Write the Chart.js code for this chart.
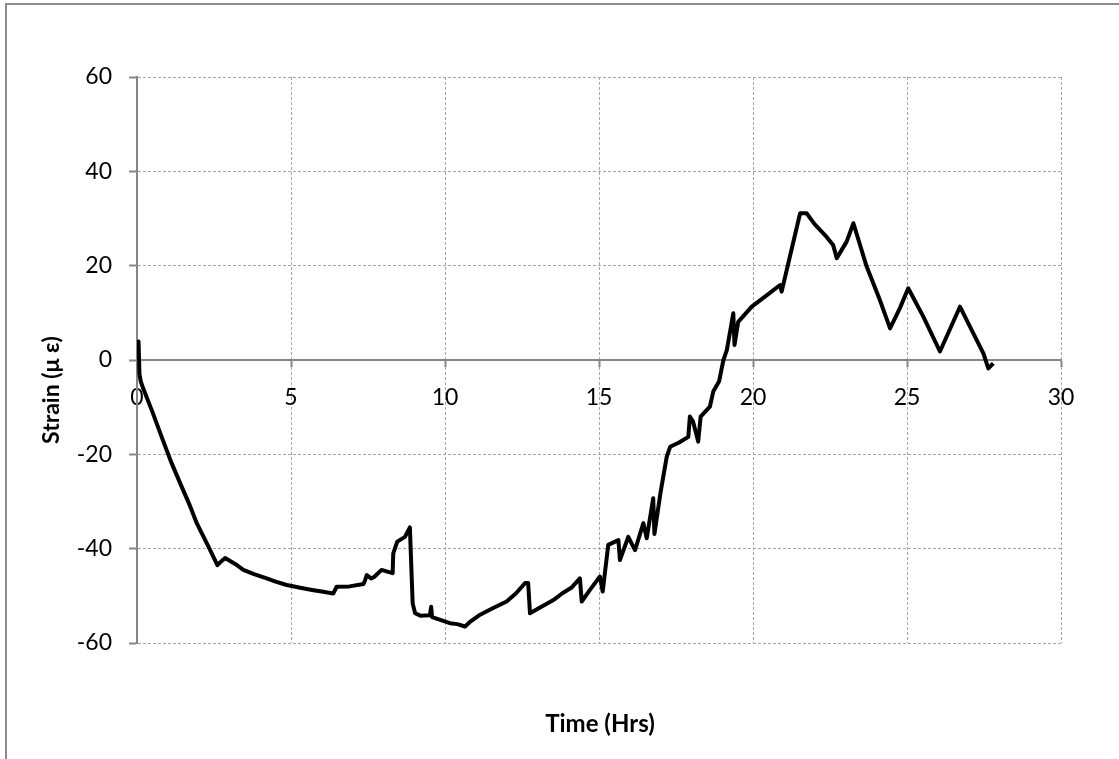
<!DOCTYPE html>
<html lang="en">
<head>
    <meta charset="UTF-8">
    <title>Strain vs Time</title>
    <script src="https://cdn.jsdelivr.net/npm/chart.js"></script>
    <style>
        body { margin: 0; overflow: hidden; background: #fff; font-family: Lato, "Open Sans", sans-serif; }
        .frame { position: absolute; left: 0; top: 0; width: 1119px; height: 759px; }
        .outline { position: absolute; left: 5px; top: 3px; width: 1200px; height: 800px; border-left: 2px solid #8c8c8c; border-top: 2px solid #8c8c8c; }
        .axis-title { position: absolute; font-weight: bold; color: #000; white-space: nowrap; }
        #x-title { left: 600px; top: 722px; font-size: 24px; transform: translate(-50%, -50%); }
        #y-title { left: 50px; top: 390px; font-size: 23px; transform: translate(-50%, -50%) rotate(-90deg); }
    </style>
</head>
<body>

    <div class="frame">
        <div class="outline"></div>
        <canvas id="strainChart" width="1119" height="759"></canvas>
        <div id="x-title" class="axis-title">Time (Hrs)</div>
        <div id="y-title" class="axis-title">Strain (μ ε)</div>
    </div>

    <script>
        // values
        const timeHrs = [
            0, 0.05, 0.08, 0.12, 0.2, 0.5, 0.8, 1.1, 1.4, 1.7, 1.94, 2.3, 2.61, 2.75, 2.86,
            3.2, 3.45, 3.8, 4.21, 4.5, 4.86, 5.3, 5.73, 6.0, 6.37, 6.45, 6.48, 6.9, 7.35, 7.4,
            7.46, 7.6, 7.7, 7.94, 8.1, 8.3, 8.32, 8.45, 8.7, 8.86, 8.95, 9.03, 9.2, 9.51, 9.55,
            9.58, 9.8, 10.16, 10.4, 10.65, 10.8, 11.14, 11.5, 12.0, 12.3, 12.6, 12.7, 12.76, 13.0,
            13.52, 13.8, 14.1, 14.38, 14.44, 14.7, 15.03, 15.12, 15.3, 15.63, 15.68, 15.95, 16.17,
            16.44, 16.55, 16.76, 16.8, 17.0, 17.2, 17.31, 17.6, 17.9, 17.95, 18.05, 18.22, 18.3,
            18.6, 18.71, 18.9, 19.04, 19.15, 19.36, 19.4, 19.52, 19.96, 20.4, 20.88, 20.93, 21.2,
            21.53, 21.74, 22.0, 22.39, 22.6, 22.72, 23.04, 23.26, 23.69, 24.12, 24.45, 24.77,
            25.04, 25.53, 26.07, 26.72, 27.15, 27.48, 27.64, 27.8
        ];
        const strain = [
            0.5, 3.9, -3, -4.5, -6, -11, -16.3, -21.5, -26.1, -30.6, -34.6, -39.3, -43.5, -42.6, -42,
            -43.3, -44.5, -45.4, -46.3, -47, -47.7, -48.3, -48.8, -49.1, -49.5, -48.5, -48.1, -48, -47.5, -46.8,
            -45.6, -46.3, -46, -44.5, -44.8, -45.2, -41, -38.5, -37.5, -35.5, -51.6, -53.7, -54.2, -54.1, -52.3,
            -54.5, -55, -55.8, -56, -56.5, -55.6, -54, -52.8, -51.2, -49.5, -47.3, -47.3, -53.7, -52.8,
            -50.9, -49.5, -48.3, -46.3, -51.2, -48.8, -45.9, -49.1, -39.2, -38.2, -42.4, -37.5, -40.3,
            -34.6, -37.8, -29.3, -36.9, -28, -20.5, -18.4, -17.5, -16.3, -12, -13, -17.3, -12,
            -9.9, -6.7, -4.5, 0, 2.1, 9.9, 3.2, 8.1, 11.3, 13.5, 15.9, 14.5, 22,
            31.1, 31.1, 28.8, 26.1, 24.4, 21.6, 25.1, 29, 19.8, 12.7, 6.7, 11,
            15.2, 9.2, 1.8, 11.3, 5.7, 1.4, -1.8, -0.7
        ];
        const xTicks = [0, 5, 10, 15, 20, 25, 30];
        const yTicks = [-60, -40, -20, 0, 20, 40, 60];

        const gridColor = "#a6a6a6";
        const axisColor = "#868686";
        const tickFont = { family: "Lato", size: 23 };

        const points = timeHrs.map((t, i) => ({ x: t, y: strain[i] }));

        new Chart(document.getElementById("strainChart"), {
            type: "scatter",
            data: {
                datasets: [{
                    data: points,
                    showLine: true,
                    borderColor: "#000",
                    borderWidth: 4,
                    borderJoinStyle: "round",
                    pointRadius: 0,
                    tension: 0
                }]
            },
            options: {
                responsive: false,
                animation: false,
                layout: { padding: { top: 77, right: 58, bottom: 116, left: 0 } },
                plugins: { legend: { display: false }, tooltip: { enabled: false } },
                scales: {
                    x: {
                        type: "linear",
                        position: { y: 0 },
                        min: 0,
                        max: 30,
                        afterBuildTicks: (scale) => { scale.ticks = xTicks.map(v => ({ value: v })); },
                        ticks: { font: tickFont, color: "#000", padding: 18, maxRotation: 0, autoSkip: false },
                        grid: { color: gridColor, lineWidth: 1, tickLength: 6, tickColor: axisColor, tickWidth: 2 },
                        border: { color: axisColor, width: 2, dash: [3, 2] }
                    },
                    y: {
                        min: -60,
                        max: 60,
                        afterFit: (scale) => { scale.width = 137; },
                        afterBuildTicks: (scale) => { scale.ticks = yTicks.map(v => ({ value: v })); },
                        ticks: { font: tickFont, color: "#000", padding: 17 },
                        grid: { color: gridColor, lineWidth: 1, tickLength: 8, tickColor: axisColor, tickWidth: 2 },
                        border: { color: axisColor, width: 2, dash: [3, 2] }
                    }
                }
            }
        });
    </script>

</body>
</html>
